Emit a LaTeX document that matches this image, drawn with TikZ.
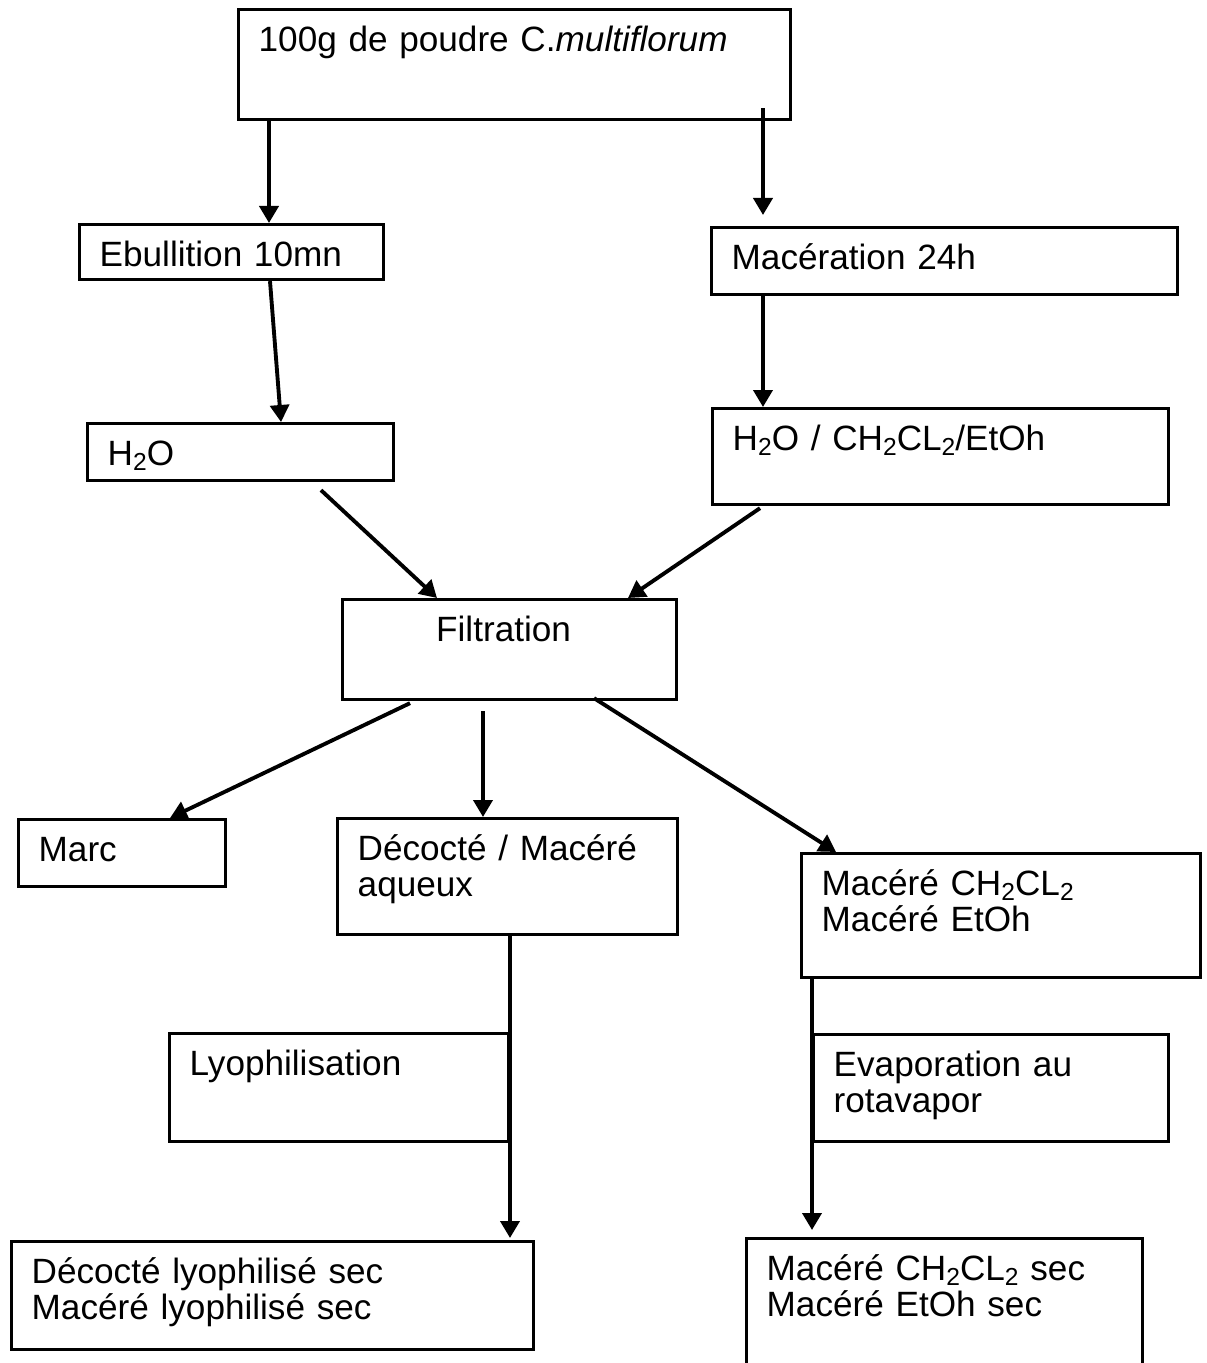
\documentclass[tikz,border=0pt]{standalone}
\usepackage{fontspec}
\setmainfont{Liberation Sans}
\usetikzlibrary{arrows.meta}
\newcommand{\chemsub}[1]{\raisebox{-0.3ex}{\fontsize{7}{7}\selectfont #1}}

\begin{document}
\begin{tikzpicture}[
		font=\fontsize{10}{10.5}\selectfont,
		box/.style 2 args={draw, line width=0.9pt, anchor=north west,
			inner sep=0pt, minimum width=#1cm, minimum height=#2cm},
		lbl/.style={anchor=north west, align=left, inner sep=0pt,
			text width=5cm, text height=7.2pt, xshift=0.21cm, yshift=-0.17cm},
		arr/.style={line width=1.1pt, -{Triangle[length=0.17cm, width=0.19cm]}},
	]

	% page frame
	\useasboundingbox (0,0) rectangle (12.06,-13.63);

	% first row
	\node[box={5.52}{1.10}, label={[lbl]north west:100g de poudre C.\textit{multiflorum}}]
		(top) at (2.37,-0.08) {};

	% two extraction branches
	\node[box={3.04}{0.55}, label={[lbl]north west:Ebullition 10mn}]
		(ebul) at (0.78,-2.23) {};
	\node[box={4.66}{0.67}, label={[lbl]north west:Macération 24h}]
		(macer) at (7.10,-2.26) {};

	\node[box={3.06}{0.57}, label={[lbl]north west:H\chemsub{2}O}]
		(water) at (0.86,-4.22) {};
	\node[box={4.56}{0.96}, label={[lbl]north west:H\chemsub{2}O / CH\chemsub{2}CL\chemsub{2}/EtOh}]
		(solv) at (7.11,-4.07) {};

	% filtration
	\node[box={3.34}{1.00}, label={[anchor=north, inner sep=0pt, text height=7.2pt,
			xshift=-0.06cm, yshift=-0.17cm]north:Filtration}]
		(filt) at (3.41,-5.98) {};

	% filtration products
	\node[box={2.07}{0.67}, label={[lbl]north west:Marc}]
		(marc) at (0.17,-8.18) {};
	\node[box={3.40}{1.16}, label={[lbl]north west:Décocté / Macéré\\aqueux}]
		(decoc) at (3.36,-8.17) {};
	\node[box={3.99}{1.24}, label={[lbl]north west:Macéré CH\chemsub{2}CL\chemsub{2}\\Macéré EtOh}]
		(macch) at (8.00,-8.52) {};

	% drying steps
	\node[box={3.39}{1.08}, label={[lbl]north west:Lyophilisation}]
		(lyo) at (1.68,-10.32) {};
	\node[box={3.55}{1.07}, label={[lbl]north west:Evaporation au\\rotavapor}]
		(evap) at (8.12,-10.33) {};

	% dry extracts
	\node[box={5.22}{1.08}, label={[lbl]north west:Décocté lyophilisé sec\\Macéré lyophilisé sec}]
		(dryl) at (0.10,-12.40) {};
	\node[box={3.96}{1.50}, label={[lbl]north west:Macéré CH\chemsub{2}CL\chemsub{2} sec\\Macéré EtOh sec}]
		(dryr) at (7.45,-12.37) {};

	% arrows
	\draw[arr] (2.69,0 |- top.south) -- (2.69,0 |- ebul.north);
	\draw[arr] ([yshift=0.13cm]7.63,0 |- top.south) -- ([yshift=0.11cm]7.63,0 |- macer.north);
	\draw[arr] (2.70,0 |- ebul.south) -- (2.81,0 |- water.north);
	\draw[arr] (7.63,0 |- macer.south) -- (7.63,0 |- solv.north);
	\draw[arr] ([yshift=-0.08cm]3.21,0 |- water.south) -- (4.37,0 |- filt.north);
	\draw[arr] ([yshift=-0.02cm]7.60,0 |- solv.south) -- (6.28,0 |- filt.north);
	\draw[arr] ([yshift=-0.02cm]4.10,0 |- filt.south) -- (1.70,0 |- marc.north);
	\draw[arr] ([yshift=-0.10cm]4.83,0 |- filt.south) -- (4.83,0 |- decoc.north);
	\draw[arr] ([yshift=0.03cm]5.94,0 |- filt.south) -- (8.36,0 |- macch.north);
	\draw[arr] (5.10,0 |- decoc.south) -- ([yshift=0.02cm]5.10,0 |- dryl.north);
	\draw[arr] (8.12,0 |- macch.south) -- ([yshift=0.07cm]8.12,0 |- dryr.north);

\end{tikzpicture}
\end{document}
